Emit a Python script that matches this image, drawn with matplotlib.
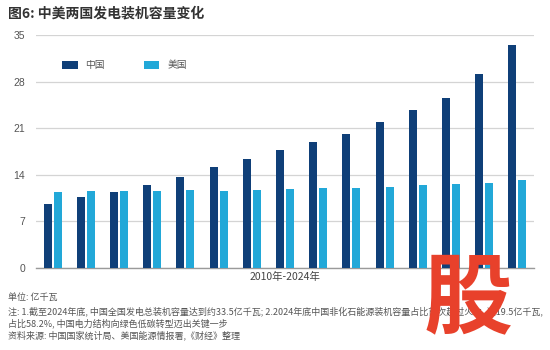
import matplotlib
matplotlib.use('Agg')
import matplotlib.pyplot as plt
import numpy as np

plt.rcParams['font.family'] = ['Noto Sans CJK SC', 'DejaVu Sans']

years = list(range(2010, 2025))
china = [9.66, 10.6, 11.4, 12.4, 13.6, 15.1, 16.4, 17.7, 18.9, 20.1, 22.0, 23.7, 25.6, 29.2, 33.5]
usa = [11.4, 11.5, 11.6, 11.6, 11.7, 11.6, 11.7, 11.9, 12.0, 12.0, 12.1, 12.4, 12.6, 12.8, 13.2]
yticks = [0, 7, 14, 21, 28, 35]

title = '图6: 中美两国发电装机容量变化'
xlabel = '2010年-2024年'
notes = ['单位: 亿千瓦',
         '注: 1.截至2024年底, 中国全国发电总装机容量达到约33.5亿千瓦; 2.2024年底中国非化石能源装机容量占比首次超过火电, 达19.5亿千瓦,',
         '占比58.2%, 中国电力结构向绿色低碳转型迈出关键一步',
         '资料来源: 中国国家统计局、美国能源情报署,《财经》整理']

c_cn = '#0f3f78'
c_us = '#22a8d8'

fig = plt.figure(figsize=(5.5, 3.5), dpi=100)
ax = fig.add_axes([36 / 550, 1 - 268 / 350, 498 / 550, 233 / 350])

x = np.arange(len(years))
w = 0.24
ax.bar(x - 0.15, china, w, color=c_cn, label='中国', zorder=3)
ax.bar(x + 0.15, usa, w, color=c_us, label='美国', zorder=3)

ax.set_xlim(-0.5, len(years) - 0.5)
ax.set_ylim(0, 35)
ax.set_yticks(yticks)
ax.set_yticklabels([str(t) for t in yticks], fontsize=7.5, color='#555555', family='Liberation Sans')
ax.tick_params(axis='y', length=0, pad=8)
ax.set_xticks([])
ax.grid(axis='y', color='#d4d4d4', linewidth=0.9, zorder=0)
for s in ['top', 'right', 'left']:
    ax.spines[s].set_visible(False)
ax.spines['bottom'].set_color('#9a9a9a')
ax.spines['bottom'].set_linewidth(1.0)
ax.set_xlabel(xlabel, fontsize=7.5, color='#444444', labelpad=3)

leg = ax.legend(loc='upper left', bbox_to_anchor=(0.035, 0.93), ncol=2, frameon=False,
                fontsize=7, handlelength=1.6, handleheight=0.9, columnspacing=4.0,
                labelcolor='#555555')

fig.text(8 / 550, 1 - 13 / 350, title, fontsize=10, fontweight='bold', color='#333333', va='center')
ys = [297, 311, 323, 335]
for yy, t in zip(ys, notes):
    fig.text(8 / 550, 1 - yy / 350, t, fontsize=6.5, color='#555555', va='center', style='italic')

# watermark
fig.text(468 / 550, 1 - 300 / 350, '股', fontsize=64, fontweight='heavy', color='#e8412b',
         ha='center', va='center', style='italic')

fig.savefig('out.png', dpi=100, facecolor='white')
